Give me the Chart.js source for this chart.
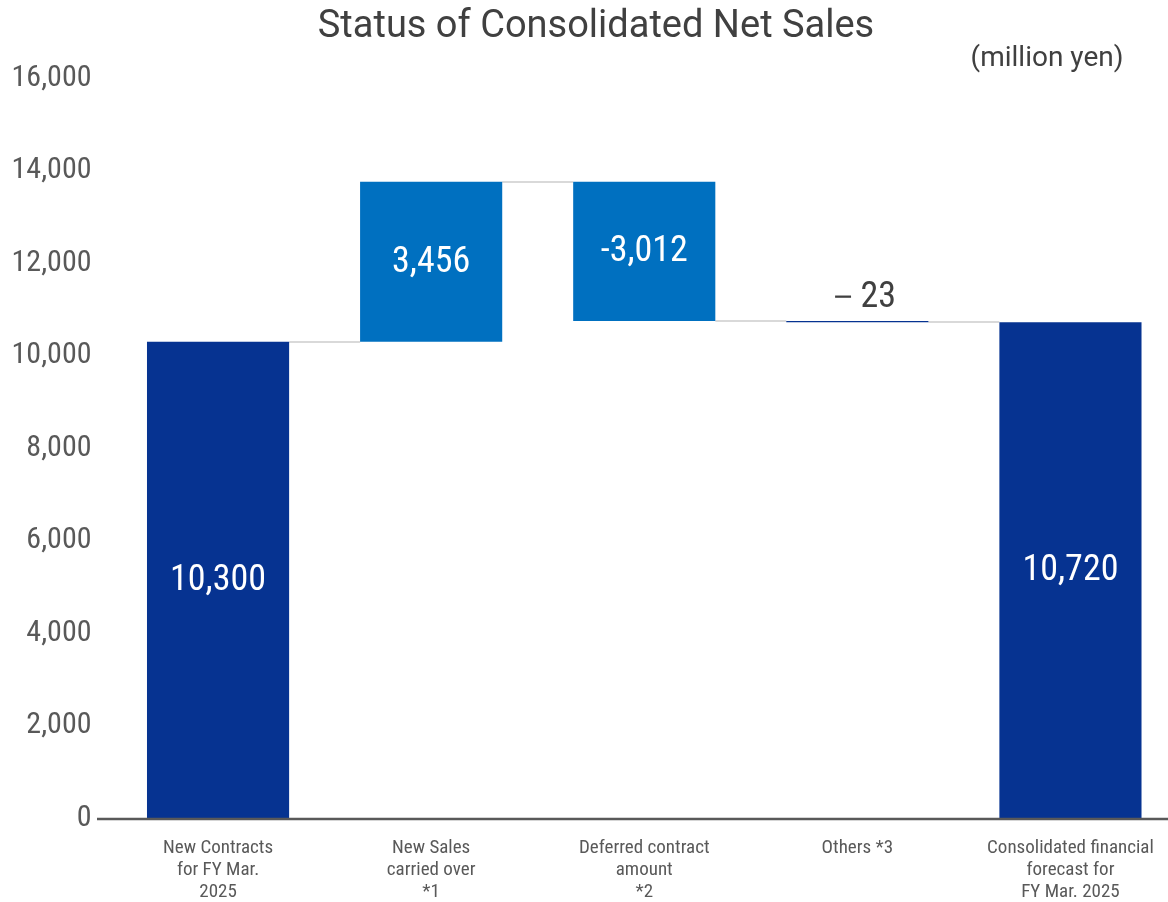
<!DOCTYPE html>
<html>
<head>
<meta charset="utf-8">
<title>Status of Consolidated Net Sales</title>
<script src="https://cdn.jsdelivr.net/npm/chart.js@4/dist/chart.umd.min.js"></script>
<style>
  html, body { margin: 0; padding: 0; background: #fff; overflow: hidden; }
  #wrap { width: 1177px; height: 902px; position: relative; }
</style>
</head>
<body>
<div id="wrap"><canvas id="chart"></canvas></div>
<script>
// Waterfall data (million yen)
const categories = [
  ['New Contracts', 'for FY Mar.', '2025'],
  ['New Sales', 'carried over', '*1'],
  ['Deferred contract', 'amount', '*2'],
  ['Others *3'],
  ['Consolidated financial', 'forecast for', 'FY Mar. 2025'],
];
const changes     = [10300, 3456, -3012, -23, 10720];
const isTotal     = [true, false, false, false, true];
const valueLabels = ['10,300', '3,456', '-3,012', '－23', '10,720'];
const yMin = 0, yMax = 16000, yStep = 2000;

const FONT = '"Liberation Sans Narrow", "Roboto Condensed", "Noto Sans", sans-serif';
const WIDE = 'Roboto, "Noto Sans", sans-serif';
const NAVY = '#063391';
const BLUE = '#0070C0';

// floating [start, end] ranges built from the step values
let running = 0;
const ranges = changes.map((v, i) => {
  if (isTotal[i]) { running = v; return [0, v]; }
  const start = running;
  running += v;
  return [start, running];
});
const barColors = changes.map((v, i) => (isTotal[i] || Math.abs(v) < 100) ? NAVY : BLUE);

// connectors, value labels, baseline, unit caption, title
const waterfallDecor = {
  id: 'waterfallDecor',
  beforeDatasetsDraw(chart) {
    const { ctx } = chart;
    const meta = chart.getDatasetMeta(0);
    const y = chart.scales.y;
    ctx.save();
    ctx.strokeStyle = '#d9d9d9';
    ctx.lineWidth = 2;
    for (let i = 0; i < ranges.length - 1; i++) {
      const a = meta.data[i], b = meta.data[i + 1];
      const level = Math.round(y.getPixelForValue(ranges[i][1]));
      ctx.beginPath();
      ctx.moveTo(a.x + a.width / 2, level);
      ctx.lineTo(b.x - b.width / 2, level);
      ctx.stroke();
    }
    ctx.restore();
  },
  afterDatasetsDraw(chart) {
    const { ctx } = chart;
    const meta = chart.getDatasetMeta(0);
    const y = chart.scales.y;
    ctx.save();

    // x axis line
    ctx.strokeStyle = '#595959';
    ctx.lineWidth = 2.5;
    const base = y.getPixelForValue(0) + 1;
    ctx.beginPath();
    ctx.moveTo(97, base);
    ctx.lineTo(chart.width, base);
    ctx.stroke();

    // value labels
    ctx.textAlign = 'center';
    ctx.textBaseline = 'middle';
    ctx.font = '36px ' + FONT;
    meta.data.forEach((bar, i) => {
      const top = Math.min(bar.y, bar.base);
      const bottom = Math.max(bar.y, bar.base);
      if (bottom - top < 40) {
        ctx.fillStyle = '#404040';
        ctx.fillText(valueLabels[i], bar.x + 3, top - 23);
      } else {
        ctx.fillStyle = '#ffffff';
        ctx.fillText(valueLabels[i], bar.x, (top + bottom) / 2 + 1);
      }
    });

    // title and unit
    ctx.fillStyle = '#404040';
    ctx.font = '38px ' + WIDE;
    ctx.fillText('Status of Consolidated Net Sales', 596, 27);
    ctx.font = '28px ' + WIDE;
    ctx.fillText('(million yen)', 1047, 59);
    ctx.restore();
  }
};

new Chart(document.getElementById('chart'), {
  type: 'bar',
  data: {
    labels: categories,
    datasets: [{
      data: ranges,
      backgroundColor: barColors,
      borderWidth: 0,
      barPercentage: 0.667,
      categoryPercentage: 1,
      minBarLength: 1,
    }]
  },
  options: {
    responsive: true,
    maintainAspectRatio: false,
    animation: false,
    layout: { padding: { top: 78, right: 0, left: 0, bottom: 0 } },
    plugins: {
      legend: { display: false },
      tooltip: { enabled: false },
      title: { display: false },
    },
    scales: {
      x: {
        grid: { display: false, drawTicks: false },
        border: { display: false },
        ticks: {
          color: '#595959',
          font: { family: FONT, size: 19, lineHeight: 1.17 },
          padding: 19,
          maxRotation: 0,
          autoSkip: false,
        },
        afterFit: s => { s.height = 84; },
      },
      y: {
        min: yMin, max: yMax,
        grid: { display: false, drawTicks: false },
        border: { display: false },
        ticks: {
          stepSize: yStep,
          color: '#595959',
          font: { family: FONT, size: 30 },
          padding: 20,
          callback: v => v.toLocaleString('en-US'),
        },
        afterFit: s => { s.width = 111.5; },
      }
    }
  },
  plugins: [waterfallDecor]
});
</script>
</body>
</html>
